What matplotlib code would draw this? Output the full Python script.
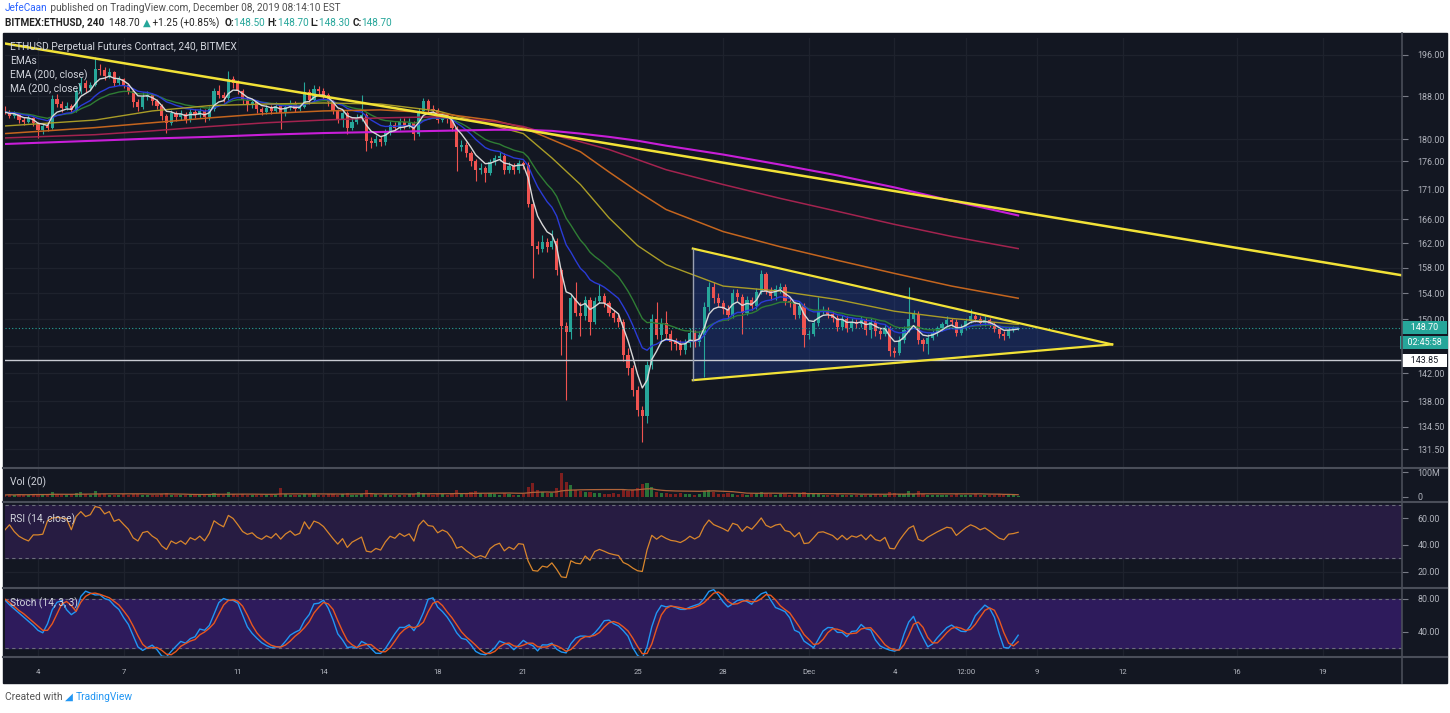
import matplotlib
matplotlib.use("Agg")
import matplotlib.pyplot as plt
import matplotlib.dates as mdates
import matplotlib.transforms as mtransforms
from matplotlib import font_manager
from matplotlib.patches import Rectangle, Polygon
from matplotlib.lines import Line2D
from matplotlib.ticker import FixedLocator, FixedFormatter, NullLocator
import numpy as np
import pandas as pd

_names = {f.name for f in font_manager.fontManager.ttflist}
FONT = next((n for n in ['Liberation Sans Narrow', 'DejaVu Sans Condensed', 'Roboto', 'Open Sans']
             if n in _names), 'DejaVu Sans')
plt.rcParams['font.family'] = [FONT, 'DejaVu Sans']

# ---------------- data: BITMEX ETHUSD, 4h candles ----------------
first_open = 185.6
closes = [
    185.0, 184.2, 184.6, 183.6, 183.2, 183.8, 182.9, 181.6, 182.4, 182.0,
    187.5, 186.6, 185.8, 186.2, 185.4, 188.9, 190.6, 189.6, 190.2, 193.2,
    193.0, 191.8, 192.6, 190.6, 191.2, 190.1, 189.0, 186.8, 185.9, 187.9,
    188.2, 187.0, 186.2, 184.2, 183.0, 184.8, 184.0, 184.6, 183.6, 185.0,
    184.4, 185.2, 184.0, 185.6, 189.0, 188.2, 187.6, 191.2, 190.5, 189.0,
    187.2, 186.4, 186.8, 185.6, 185.0, 185.8, 185.2, 186.2, 184.8, 185.9,
    186.6, 185.6, 186.0, 188.8, 187.2, 189.4, 189.0, 188.2, 186.8, 185.2,
    183.6, 184.8, 182.0, 183.2, 183.8, 184.4, 179.6, 179.2, 180.0, 179.4,
    181.2, 182.6, 182.0, 183.2, 182.4, 183.0, 181.0, 185.2, 187.0, 185.6,
    185.4, 183.6, 184.4, 183.8, 182.0, 178.6, 179.0, 177.4, 176.0, 174.4,
    174.8, 174.0, 175.8, 176.6, 177.0, 174.4, 175.2, 174.4, 175.6, 175.4,
    168.6, 161.6, 161.0, 162.2, 161.4, 162.4, 157.6, 149.0, 148.0, 153.2,
    151.0, 150.4, 153.0, 149.6, 152.8, 153.6, 152.4, 151.0, 150.2, 149.6,
    144.6, 142.8, 139.6, 136.8, 136.0, 143.2, 150.0, 147.6, 149.4, 147.8,
    146.6, 146.2, 145.4, 146.4, 147.9, 146.6, 147.6, 151.8, 155.0, 153.2,
    152.4, 151.6, 150.6, 154.0, 153.4, 151.0, 153.0, 152.0, 154.2, 157.0,
    154.4, 153.6, 154.6, 155.0, 152.8, 152.4, 150.6, 152.0, 147.6, 147.8,
    149.4, 151.2, 151.4, 150.8, 150.2, 148.8, 150.0, 148.6, 149.6, 149.2,
    149.8, 148.4, 149.6, 148.2, 147.8, 148.6, 145.2, 145.0, 146.8, 148.4,
    150.0, 150.7, 146.8, 146.2, 147.2, 147.9, 148.6, 149.2, 149.8, 149.6,
    147.9, 148.8, 149.7, 150.4, 150.0, 149.4, 149.8, 149.2, 148.5, 147.8,
    147.5, 148.4, 148.5, 148.7]
highs = [
    186.2, 185.4, 185.2, 184.8, 184.0, 184.4, 184.1, 183.2, 182.8, 183.0,
    188.2, 188.4, 187.0, 186.9, 186.6, 189.4, 191.6, 191.0, 190.8, 195.6,
    194.2, 193.6, 193.4, 192.8, 191.8, 191.5, 190.6, 189.4, 187.4, 188.8,
    189.0, 188.6, 187.4, 186.6, 184.6, 185.4, 185.2, 185.4, 185.0, 185.6,
    185.6, 185.8, 185.5, 186.2, 189.6, 190.2, 188.8, 192.8, 191.8, 191.0,
    189.4, 187.8, 187.4, 187.2, 186.0, 186.4, 186.4, 186.8, 186.6, 186.4,
    187.2, 187.0, 186.6, 190.8, 189.4, 190.2, 190.0, 189.6, 188.6, 187.2,
    185.6, 185.4, 185.2, 183.8, 184.6, 188.2, 184.8, 180.4, 180.8, 180.6,
    181.8, 183.4, 183.2, 183.8, 183.8, 183.8, 183.4, 185.8, 187.6, 187.4,
    186.4, 185.8, 185.0, 184.8, 184.2, 182.4, 179.8, 179.4, 177.8, 176.4,
    175.6, 175.2, 176.4, 177.2, 177.6, 177.4, 175.8, 175.6, 176.2, 176.0,
    175.8, 169.2, 162.4, 163.4, 162.8, 164.2, 162.8, 158.0, 149.6, 153.8,
    155.8, 152.6, 153.6, 153.4, 153.4, 155.4, 154.0, 152.8, 151.4, 150.8,
    150.0, 145.6, 143.2, 140.2, 137.4, 143.8, 150.8, 152.6, 150.2, 151.2,
    148.4, 147.2, 146.8, 147.0, 148.6, 148.4, 148.2, 152.6, 155.8, 155.8,
    154.0, 153.0, 152.2, 154.6, 154.6, 153.8, 153.6, 153.4, 154.8, 157.6,
    157.4, 155.0, 155.2, 155.6, 155.4, 153.4, 152.8, 152.6, 152.4, 148.4,
    150.0, 153.4, 152.0, 151.8, 151.2, 150.6, 150.6, 150.4, 150.2, 150.0,
    150.4, 150.2, 150.2, 149.8, 148.8, 149.2, 149.0, 145.8, 147.4, 149.0,
    155.0, 151.4, 151.2, 147.2, 147.8, 148.4, 149.0, 149.6, 150.4, 150.2,
    150.0, 149.2, 150.2, 151.6, 150.8, 150.4, 150.4, 150.2, 149.6, 148.8,
    148.2, 148.8, 149.0, 148.7]
lows = [
    184.6, 183.8, 183.9, 183.0, 182.6, 182.9, 182.4, 180.2, 181.0, 181.4,
    181.8, 186.0, 185.0, 185.3, 184.8, 185.0, 188.4, 188.8, 189.0, 190.0,
    192.0, 191.0, 191.4, 190.0, 190.2, 189.6, 188.4, 186.0, 185.2, 185.6,
    187.2, 186.4, 185.6, 183.6, 181.2, 182.6, 183.4, 183.6, 183.0, 183.2,
    183.8, 183.9, 183.2, 183.6, 185.2, 187.6, 186.8, 187.2, 189.6, 188.4,
    186.6, 185.2, 185.8, 184.8, 184.4, 184.6, 184.6, 184.8, 181.8, 184.2,
    185.4, 185.0, 185.2, 185.8, 186.6, 186.8, 188.4, 187.4, 186.2, 184.6,
    183.0, 182.2, 181.0, 181.6, 182.8, 183.4, 177.8, 178.4, 178.8, 178.8,
    179.0, 180.8, 181.4, 181.6, 181.8, 182.0, 179.8, 180.6, 184.8, 185.0,
    184.8, 183.0, 183.2, 183.0, 181.4, 174.2, 177.8, 176.8, 175.2, 172.6,
    173.8, 172.4, 173.6, 175.4, 176.0, 173.8, 174.0, 173.8, 174.0, 174.6,
    168.0, 156.4, 160.2, 160.6, 160.6, 161.0, 156.8, 144.6, 138.2, 147.0,
    150.4, 147.4, 149.8, 147.6, 149.2, 152.4, 151.8, 150.4, 149.6, 148.8,
    143.8, 141.8, 138.8, 136.0, 132.4, 135.0, 142.6, 147.0, 146.4, 147.2,
    145.4, 145.4, 144.6, 144.8, 145.8, 145.8, 146.0, 141.4, 151.2, 152.4,
    151.8, 150.8, 149.8, 150.2, 152.8, 147.8, 150.6, 151.4, 151.6, 153.8,
    153.8, 153.0, 153.0, 154.0, 152.2, 151.8, 150.0, 150.2, 145.8, 147.0,
    147.4, 149.0, 150.8, 150.2, 149.6, 148.2, 148.4, 148.0, 148.2, 148.6,
    148.8, 147.6, 147.2, 147.4, 147.0, 147.4, 144.5, 144.4, 144.6, 146.4,
    148.0, 149.6, 146.2, 145.2, 144.8, 146.8, 147.4, 148.2, 148.8, 149.0,
    147.4, 147.6, 148.4, 149.4, 149.6, 149.0, 149.0, 148.8, 148.0, 147.2,
    146.8, 147.2, 148.0, 148.3]
volumes_m = [
    8, 10, 7, 12, 9, 8, 14, 10, 9, 12,
    20, 14, 9, 8, 10, 16, 22, 12, 10, 24,
    14, 12, 10, 9, 8, 11, 10, 14, 12, 10,
    9, 8, 10, 14, 16, 10, 8, 9, 10, 8,
    8, 9, 10, 12, 18, 12, 10, 22, 14, 10,
    12, 10, 8, 9, 10, 8, 10, 9, 36, 12,
    9, 10, 8, 14, 12, 16, 10, 9, 12, 14,
    10, 12, 16, 10, 9, 12, 28, 16, 12, 10,
    12, 10, 9, 10, 8, 12, 14, 22, 16, 12,
    10, 14, 12, 10, 16, 30, 18, 16, 20, 24,
    16, 14, 18, 12, 10, 16, 12, 10, 9, 12,
    40, 56, 30, 20, 18, 16, 38, 96, 60, 48,
    30, 24, 20, 22, 16, 18, 14, 12, 16, 14,
    30, 24, 28, 36, 52, 58, 40, 22, 18, 16,
    14, 12, 16, 12, 14, 10, 12, 24, 30, 20,
    14, 12, 16, 14, 10, 12, 10, 12, 16, 22,
    18, 12, 10, 12, 14, 10, 14, 12, 20, 14,
    12, 14, 10, 9, 10, 12, 10, 9, 10, 8,
    9, 10, 8, 12, 10, 9, 22, 16, 14, 12,
    26, 12, 24, 14, 10, 9, 8, 10, 9, 8,
    12, 9, 8, 10, 12, 8, 9, 8, 10, 12,
    9, 10, 8, 4]

# oscillator values at the left edge (history before the first candle is off-chart)
rsi_head = [51, 55, 50, 46.5, 44.5, 43, 47.5, 47.5, 48, 58, 60, 60.5, 60, 59.5]
stoch_k_head = [79, 73, 68, 63, 58, 53, 48, 42, 39, 50, 67, 76, 78, 67, 61, 65]
stoch_d_head = [80, 76, 71, 66, 62, 57, 52, 47, 42, 42, 50, 62, 74, 77, 72, 65]

# slow moving averages
slow_dates = ['2019-11-02 20:00', '2019-11-06 00:00', '2019-11-08 00:00', '2019-11-10 00:00',
              '2019-11-12 00:00', '2019-11-14 00:00', '2019-11-16 00:00', '2019-11-18 00:00',
              '2019-11-20 00:00', '2019-11-21 00:00', '2019-11-22 00:00', '2019-11-23 00:00',
              '2019-11-24 00:00', '2019-11-25 00:00', '2019-11-26 00:00', '2019-11-28 00:00',
              '2019-11-30 00:00', '2019-12-02 00:00', '2019-12-04 00:00', '2019-12-06 00:00',
              '2019-12-08 08:00']
ema100 = [182.4, 183.5, 185.2, 186.2, 186.5, 186.7, 186.5, 185.2, 182.4, 181.0, 176.6,
          171.9, 166.2, 161.6, 158.5, 155.1, 154.3, 153.0, 151.2, 150.1, 149.2]
ema200 = [181.0, 182.1, 183.0, 183.9, 184.7, 185.2, 185.4, 184.8, 183.4, 182.1, 179.9,
          177.7, 174.1, 170.7, 167.6, 163.9, 161.4, 159.2, 157.1, 155.1, 153.2]
ema200b = [180.2, 180.8, 181.5, 182.3, 183.0, 183.5, 183.9, 184.1, 183.2, 182.3, 180.8,
           179.5, 178.1, 176.3, 174.5, 171.9, 169.5, 167.3, 165.1, 163.1, 161.1]
ma200 = [179.1, 179.7, 180.1, 180.4, 180.8, 181.1, 181.3, 181.5, 181.7, 181.7, 181.5,
         181.0, 180.4, 179.7, 178.8, 177.2, 175.4, 173.5, 171.4, 169.1, 166.6]

# drawings
trend_dates = ['2019-11-02 20:00', '2019-12-21 18:40']
trend_prices = [198.3, 156.8]
tri_dates = ['2019-11-26 22:30', '2019-11-26 22:30', '2019-12-11 15:00']
tri_prices = [161.1, 141.0, 146.2]
support = 143.85
last_price = 148.70

price_ticks = [131.5, 134.5, 138, 142, 146, 150, 154, 158, 162, 166, 171, 176, 180, 188, 196]
price_labels = ['131.50', '134.50', '138.00', '142.00', '', '150.00', '154.00', '158.00',
                '162.00', '166.00', '171.00', '176.00', '180.00', '188.00', '196.00']
date_ticks = ['2019-11-04 00:00', '2019-11-07 00:00', '2019-11-11 00:00', '2019-11-14 00:00',
              '2019-11-18 00:00', '2019-11-21 00:00', '2019-11-25 00:00', '2019-11-28 00:00',
              '2019-12-01 00:00', '2019-12-04 00:00', '2019-12-06 12:00', '2019-12-09 00:00',
              '2019-12-12 00:00', '2019-12-16 00:00', '2019-12-19 00:00']
date_labels = ['4', '7', '11', '14', '18', '21', '25', '28', 'Dec', '4', '12:00',
               '9', '12', '16', '19']

# ---------------- style ----------------
BG = '#131722'
GRID = '#1e222d'
TXT = '#d1d4dc'
AXT = '#b2b5be'
UP = '#26a69a'
DN = '#ef5350'
SEP = '#4a4e59'

W, H = 1450, 713
fig = plt.figure(figsize=(W / 100, H / 100), dpi=100)
fig.patch.set_facecolor('white')
renderer = fig.canvas.get_renderer()


def box(x0, y0, x1, y1):
    return [x0 / W, 1 - y1 / H, (x1 - x0) / W, (y1 - y0) / H]


def dnum(seq):
    return mdates.date2num(pd.to_datetime(seq, format='%Y-%m-%d %H:%M'))


def fit(s, width_px, weight='normal'):
    tx = fig.text(0, 0, s, fontsize=10, fontweight=weight)
    wd = tx.get_window_extent(renderer=renderer).width
    tx.remove()
    return 10 * width_px / wd


FS_PANE = fit('ETHUSD Perpetual Futures Contract, 240, BITMEX', 228)
FS_HEAD = fit('JefeCaan published on TradingView.com, December 08, 2019 08:14:10 EST', 335)
FS_FOOT = fit('Created with', 57)
FS_AXIS = fit('196.00', 27)
FS_TIME = fit('12:00', 19)

fig.add_artist(Rectangle((3 / W, 1 - 683 / H), 1444 / W, 650 / H,
                         transform=fig.transFigure, color=BG, zorder=0))

ax_p = fig.add_axes(box(5, 38, 1402, 468))
ax_v = fig.add_axes(box(5, 468, 1402, 502))
ax_r = fig.add_axes(box(5, 502, 1402, 588))
ax_s = fig.add_axes(box(5, 588, 1402, 657))

times = pd.date_range('2019-11-02 20:00', periods=len(closes), freq='4h')
t = mdates.date2num(times)
xlo, xhi = dnum(['2019-11-02 20:15', '2019-12-21 18:40'])
xt = dnum(date_ticks)

for ax in (ax_p, ax_v, ax_r, ax_s):
    ax.set_facecolor(BG)
    for s in ax.spines.values():
        s.set_visible(False)
    ax.set_xlim(xlo, xhi)
    ax.set_xticks(xt)
    ax.tick_params(axis='x', length=0, labelbottom=False)
    ax.grid(True, color=GRID, lw=0.9)
    ax.set_axisbelow(True)
    ax.yaxis.tick_right()
    ax.tick_params(axis='y', colors='#787b86', labelcolor=AXT, labelsize=FS_AXIS,
                   length=4, pad=7, width=0.8)

# ---------------- price pane ----------------
c = np.array(closes)
h = np.array(highs)
l = np.array(lows)
o = np.concatenate([[first_open], c[:-1]])
col = np.where(c >= o, UP, DN)
ax_p.vlines(t, l, h, colors=col, lw=0.8, zorder=3)
ax_p.bar(t, np.maximum(np.abs(c - o), 0.08), bottom=np.minimum(o, c), width=0.11,
         color=col, linewidth=0, zorder=4)

cs = pd.Series(c)
ax_p.plot(t, cs.ewm(span=21, adjust=False).mean(), color='#2f7d34', lw=1, zorder=5)
ax_p.plot(t, cs.ewm(span=13, adjust=False).mean(), color='#2a3bd6', lw=1, zorder=5)
ax_p.plot(t, cs.ewm(span=5, adjust=False).mean(), color='#d8d8d8', lw=1, zorder=6)

ts = dnum(slow_dates)
ax_p.plot(ts, ema100, color='#a99c27', lw=1.0, zorder=5)
ax_p.plot(ts, ema200, color='#c4651e', lw=1.1, zorder=5)
ax_p.plot(ts, ema200b, color='#a3234f', lw=1.1, zorder=5)
ax_p.plot(ts, ma200, color='#c81ed8', lw=1.5, zorder=5)

# triangle + trendline
tri_t = dnum(tri_dates)
ax_p.add_patch(Polygon(list(zip(tri_t, tri_prices)), closed=True,
                       facecolor=(0.16, 0.38, 1.0, 0.2), edgecolor='none', zorder=2))
ax_p.plot([tri_t[0], tri_t[2]], [tri_prices[0], tri_prices[2]], color='#f2e237', lw=1.6, zorder=7)
ax_p.plot([tri_t[1], tri_t[2]], [tri_prices[1], tri_prices[2]], color='#f2e237', lw=1.6, zorder=7)
ax_p.plot([tri_t[0], tri_t[1]], [tri_prices[0], tri_prices[1]], color='#9aa0b0', lw=1, zorder=7)
tr_t = dnum(trend_dates)
ax_p.plot(tr_t, trend_prices, color='#f2e237', lw=1.8, zorder=7)

ax_p.axhline(support, color='#c8cad2', lw=1, zorder=6)
ax_p.axhline(last_price, color=UP, lw=0.8, ls=(0, (1, 2)), zorder=6)

ax_p.set_yscale('log')
ax_p.set_ylim(129.0, 199.4)
ax_p.yaxis.set_major_locator(FixedLocator(price_ticks))
ax_p.yaxis.set_major_formatter(FixedFormatter(price_labels))
ax_p.yaxis.set_minor_locator(NullLocator())

tr = mtransforms.blended_transform_factory(ax_p.transAxes, ax_p.transData)
lab = dict(xycoords=tr, textcoords='offset points', ha='center', va='center',
           fontsize=FS_AXIS, annotation_clip=False, zorder=20)
ax_p.annotate('   148.70   ', xy=(1, last_price), xytext=(16, 0), color='white',
              bbox=dict(boxstyle='square,pad=0.25', fc=UP, ec='none'), **lab)
ax_p.annotate('  02:45:58  ', xy=(1, last_price), xytext=(16, -10.5), color='white',
              bbox=dict(boxstyle='square,pad=0.25', fc=UP, ec='none'), **lab)
ax_p.annotate('   143.85   ', xy=(1, support), xytext=(16, 0), color='#131722',
              bbox=dict(boxstyle='square,pad=0.25', fc='white', ec='none'), **lab)

# ---------------- volume pane ----------------
vol = np.array(volumes_m, dtype=float)
vcol = np.where(c >= o, '#287338', '#7e1f1f')
ax_v.bar(t, vol, width=0.11, color=vcol, linewidth=0, zorder=3)
ax_v.plot(t, pd.Series(vol).rolling(20, min_periods=1).mean(), color='#b0643a', lw=0.9, zorder=4)
ax_v.set_ylim(-20, 116)
ax_v.yaxis.set_major_locator(FixedLocator([0, 100]))
ax_v.yaxis.set_major_formatter(FixedFormatter(['0', '100M']))
ax_v.grid(False, axis='y')

# ---------------- RSI pane (Wilder, 14) ----------------
diff = np.diff(c)
gain = np.clip(diff, 0, None)
loss = np.clip(-diff, 0, None)
rsi = np.full(len(c), np.nan)
ag, al = gain[:14].mean(), loss[:14].mean()
rsi[14] = 100 - 100 / (1 + ag / al)
for j in range(15, len(c)):
    ag = (ag * 13 + gain[j - 1]) / 14
    al = (al * 13 + loss[j - 1]) / 14
    rsi[j] = 100 - 100 / (1 + ag / al)
rsi[:len(rsi_head)] = rsi_head

ax_r.axhspan(30, 70, color='#271c42', zorder=1)
ax_r.axhline(70, color='#6b6e7a', lw=0.8, ls=(0, (3, 3)), zorder=2)
ax_r.axhline(30, color='#6b6e7a', lw=0.8, ls=(0, (3, 3)), zorder=2)
ax_r.plot(t, rsi, color='#d9862c', lw=0.9, zorder=4)
ax_r.set_ylim(8.1, 71.9)
ax_r.yaxis.set_major_locator(FixedLocator([20, 40, 60]))
ax_r.yaxis.set_major_formatter(FixedFormatter(['20.00', '40.00', '60.00']))

# ---------------- Stoch pane (14, 3, 3) ----------------
hh = pd.Series(h).rolling(14, min_periods=1).max()
ll = pd.Series(l).rolling(14, min_periods=1).min()
raw = 100 * (cs - ll) / (hh - ll)
k = raw.rolling(3, min_periods=1).mean().to_numpy()
dd = pd.Series(k).rolling(3, min_periods=1).mean().to_numpy()
k[:len(stoch_k_head)] = stoch_k_head
dd[:len(stoch_d_head)] = stoch_d_head

ax_s.axhspan(20, 80, color='#2e1b5c', zorder=1)
ax_s.axhline(80, color='#6b6e7a', lw=0.8, ls=(0, (3, 3)), zorder=2)
ax_s.axhline(20, color='#6b6e7a', lw=0.8, ls=(0, (3, 3)), zorder=2)
ax_s.plot(t, k, color='#2196f3', lw=1, zorder=4)
ax_s.plot(t, dd, color='#e8571f', lw=1, zorder=4)
ax_s.set_ylim(9.7, 93.3)
ax_s.yaxis.set_major_locator(FixedLocator([40, 80]))
ax_s.yaxis.set_major_formatter(FixedFormatter(['40.00', '80.00']))
ax_s.set_xticklabels(date_labels)
ax_s.tick_params(axis='x', labelbottom=True, labelsize=FS_TIME, labelcolor=AXT, pad=9)

# ---------------- separators ----------------
for yy in (468, 502, 588, 657):
    fig.add_artist(Line2D([3 / W, 1447 / W], [1 - yy / H] * 2, transform=fig.transFigure,
                          color=SEP, lw=1.5, zorder=10))
fig.add_artist(Line2D([1402 / W] * 2, [1 - 33 / H, 1 - 683 / H], transform=fig.transFigure,
                      color=SEP, lw=1.2, zorder=10))

# ---------------- texts ----------------
def put(x, y, s, **kw):
    kw.setdefault('fontsize', FS_PANE)
    kw.setdefault('color', TXT)
    return fig.text(x / W, 1 - y / H, s, va='center', ha='left', zorder=30, **kw)


put(10, 47, 'ETHUSD Perpetual Futures Contract, 240, BITMEX')
put(10, 61, 'EMAs')
put(10, 75, 'EMA (200, close)')
put(10, 89, 'MA (200, close)')
put(10, 482, 'Vol (20)')
put(10, 519, 'RSI (14, close)')
put(10, 603, 'Stoch (14, 3, 3)')


def chain(x, y, parts, size):
    for s, colr, wt in parts:
        tx = put(x, y, s, fontsize=size, color=colr, fontweight=wt)
        x += tx.get_window_extent(renderer=renderer).width


DK = '#222222'
chain(5, 8, [('JefeCaan', '#2962ff', 'normal'),
             (' published on TradingView.com, December 08, 2019 08:14:10 EST', '#505050', 'normal')],
      FS_HEAD)
chain(5, 23, [('BITMEX:ETHUSD, 240', DK, 'bold'), ('  148.70 ', DK, 'normal'),
              ('\u25b2', UP, 'normal'), (' +1.25 (+0.85%)  ', DK, 'normal'),
              ('O:', DK, 'bold'), ('148.50 ', UP, 'normal'),
              ('H:', DK, 'bold'), ('148.70 ', UP, 'normal'),
              ('L:', DK, 'bold'), ('148.30 ', UP, 'normal'),
              ('C:', DK, 'bold'), ('148.70', UP, 'normal')], FS_HEAD)

chain(5, 697, [('Created with ', '#555555', 'normal'), ('\u25e2 ', '#2196f3', 'bold'),
               ('TradingView', '#2196f3', 'normal')], FS_FOOT)

fig.savefig('out.png', dpi=100, facecolor=fig.get_facecolor())
